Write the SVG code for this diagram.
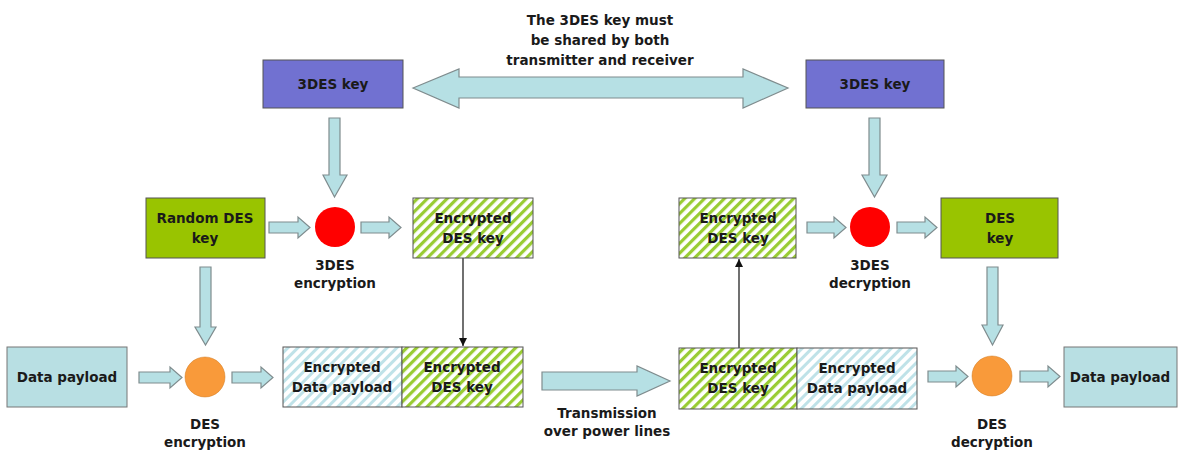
<svg xmlns="http://www.w3.org/2000/svg" width="1182" height="450" viewBox="0 0 1182 450">
<style>
text{font-family:"DejaVu Sans","Liberation Sans",sans-serif;font-weight:bold;font-size:13.5px;fill:#1a1a1a;text-anchor:middle}
.box{stroke:#555;stroke-width:1}
.purple{fill:#7171d1}
.green{fill:#99c400}
.data{fill:#b8dfe3;stroke:#777}
.ghatch{fill:url(#gh)}
.bhatch{fill:url(#bh)}
.barrow{fill:#b6e0e4;stroke:#7f8c8e;stroke-width:1.2}
.line{stroke:#111;stroke-width:1.2;fill:none}
</style>
<defs>
<pattern id="gh" width="7" height="7" patternUnits="userSpaceOnUse" patternTransform="rotate(45)">
<rect width="7" height="7" fill="#ffffff"/>
<rect width="3.2" height="7" fill="#99cc33"/>
</pattern>
<pattern id="bh" width="7" height="7" patternUnits="userSpaceOnUse" patternTransform="rotate(45)">
<rect width="7" height="7" fill="#ffffff"/>
<rect width="3" height="7" fill="#bfe2e8"/>
</pattern>
<marker id="ah" viewBox="0 0 10 10" refX="10" refY="5" markerWidth="8" markerHeight="8" orient="auto" markerUnits="userSpaceOnUse">
<path d="M0,0 L10,5 L0,10 z" fill="#111"/>
</marker>
</defs>

<g id="connectors">
<path class="barrow" d="M413,88 L459,69 L459,77 L743,77 L743,69 L788,88 L743,108 L743,98 L459,98 L459,108 Z"/>
<path class="barrow" d="M329,118 L340,118 L340,175 L347,175 L334.5,197 L323,175 L329,175 Z"/>
<path class="barrow" d="M869,118 L880,118 L880,175 L887,175 L874.5,197 L862,175 L869,175 Z"/>
<path class="barrow" d="M200,267 L211,267 L211,327 L216,327 L205.5,345 L195,327 L200,327 Z"/>
<path class="barrow" d="M987,267 L998,267 L998,325 L1003,325 L992.5,345 L982,325 L987,325 Z"/>
<path class="barrow" d="M269,222 L298,222 L298,217 L310,227.5 L298,238 L298,233 L269,233 Z"/>
<path class="barrow" d="M361,222 L389,222 L389,217 L401,227.5 L389,238 L389,233 L361,233 Z"/>
<path class="barrow" d="M807,222 L834,222 L834,217 L846,227.5 L834,238 L834,233 L807,233 Z"/>
<path class="barrow" d="M897,222 L925,222 L925,217 L937,227.5 L925,238 L925,233 L897,233 Z"/>
<path class="barrow" d="M139,372 L170,372 L170,367 L182,377.5 L170,388 L170,383 L139,383 Z"/>
<path class="barrow" d="M232,372 L261,372 L261,367 L273,377.5 L261,388 L261,383 L232,383 Z"/>
<path class="barrow" d="M928,371 L956,371 L956,366 L968,376.5 L956,387 L956,382 L928,382 Z"/>
<path class="barrow" d="M1020,371 L1048,371 L1048,366 L1060,376.5 L1048,387 L1048,382 L1020,382 Z"/>
<path class="barrow" d="M542,372 L637,372 L637,366 L670,381 L637,396 L637,390 L542,390 Z"/>
<line class="line" x1="463" y1="258" x2="463" y2="346" marker-end="url(#ah)"/>
<line class="line" x1="739" y1="348" x2="739" y2="259" stroke="#444" marker-end="url(#ah)"/>
</g>

<g id="caption-top">
<text x="600" y="25">The 3DES key must</text>
<text x="600" y="45">be shared by both</text>
<text x="600" y="65">transmitter and receiver</text>
</g>

<g id="key3des-left">
<rect class="box purple" x="263" y="60" width="140" height="48"/>
<text x="333" y="89">3DES key</text>
</g>
<g id="key3des-right">
<rect class="box purple" x="806" y="60" width="138" height="48"/>
<text x="875" y="89">3DES key</text>
</g>

<g id="random-des-key">
<rect class="box green" x="146" y="198" width="119" height="60"/>
<text x="205" y="223">Random DES</text>
<text x="205" y="243">key</text>
</g>

<g id="enc3des">
<circle cx="335" cy="227" r="20" fill="#ff0000"/>
<text x="335" y="270">3DES</text>
<text x="335" y="288">encryption</text>
</g>

<g id="enc-des-key-top-left">
<rect class="box ghatch" x="413" y="198" width="120" height="60"/>
<text x="473" y="223">Encrypted</text>
<text x="473" y="243">DES key</text>
</g>

<g id="enc-des-key-top-right">
<rect class="box ghatch" x="679" y="198" width="117" height="60"/>
<text x="738" y="223">Encrypted</text>
<text x="738" y="243">DES key</text>
</g>

<g id="dec3des">
<circle cx="870" cy="227" r="20" fill="#ff0000"/>
<text x="870" y="270">3DES</text>
<text x="870" y="288">decryption</text>
</g>

<g id="des-key">
<rect class="box green" x="941" y="198" width="117" height="60"/>
<text x="1000" y="223">DES</text>
<text x="1000" y="243">key</text>
</g>

<g id="data-payload-left">
<rect class="box data" x="7" y="347" width="120" height="60"/>
<text x="67" y="382">Data payload</text>
</g>

<g id="des-enc">
<circle cx="205" cy="377" r="20" fill="#f99a3a" stroke="#d07a20" stroke-width="0.5"/>
<text x="205" y="429">DES</text>
<text x="205" y="447">encryption</text>
</g>

<g id="enc-data-left">
<rect class="box bhatch" x="283" y="347" width="119" height="60"/>
<text x="342" y="372">Encrypted</text>
<text x="342" y="392">Data payload</text>
</g>

<g id="enc-des-key-bottom-left">
<rect class="box ghatch" x="402" y="347" width="121" height="60"/>
<text x="462" y="372">Encrypted</text>
<text x="462" y="392">DES key</text>
</g>

<g id="transmission-label">
<text x="607" y="418">Transmission</text>
<text x="607" y="436">over power lines</text>
</g>

<g id="enc-des-key-bottom-right">
<rect class="box ghatch" x="679" y="348" width="118" height="61" stroke="#222"/>
<text x="738" y="373">Encrypted</text>
<text x="738" y="393">DES key</text>
</g>

<g id="enc-data-right">
<rect class="box bhatch" x="797" y="348" width="120" height="61"/>
<text x="857" y="373">Encrypted</text>
<text x="857" y="393">Data payload</text>
</g>

<g id="des-dec">
<circle cx="992" cy="376" r="20" fill="#f99a3a" stroke="#d07a20" stroke-width="0.5"/>
<text x="992" y="429">DES</text>
<text x="992" y="447">decryption</text>
</g>

<g id="data-payload-right">
<rect class="box data" x="1064" y="347" width="113" height="60"/>
<text x="1120" y="382">Data payload</text>
</g>
</svg>
